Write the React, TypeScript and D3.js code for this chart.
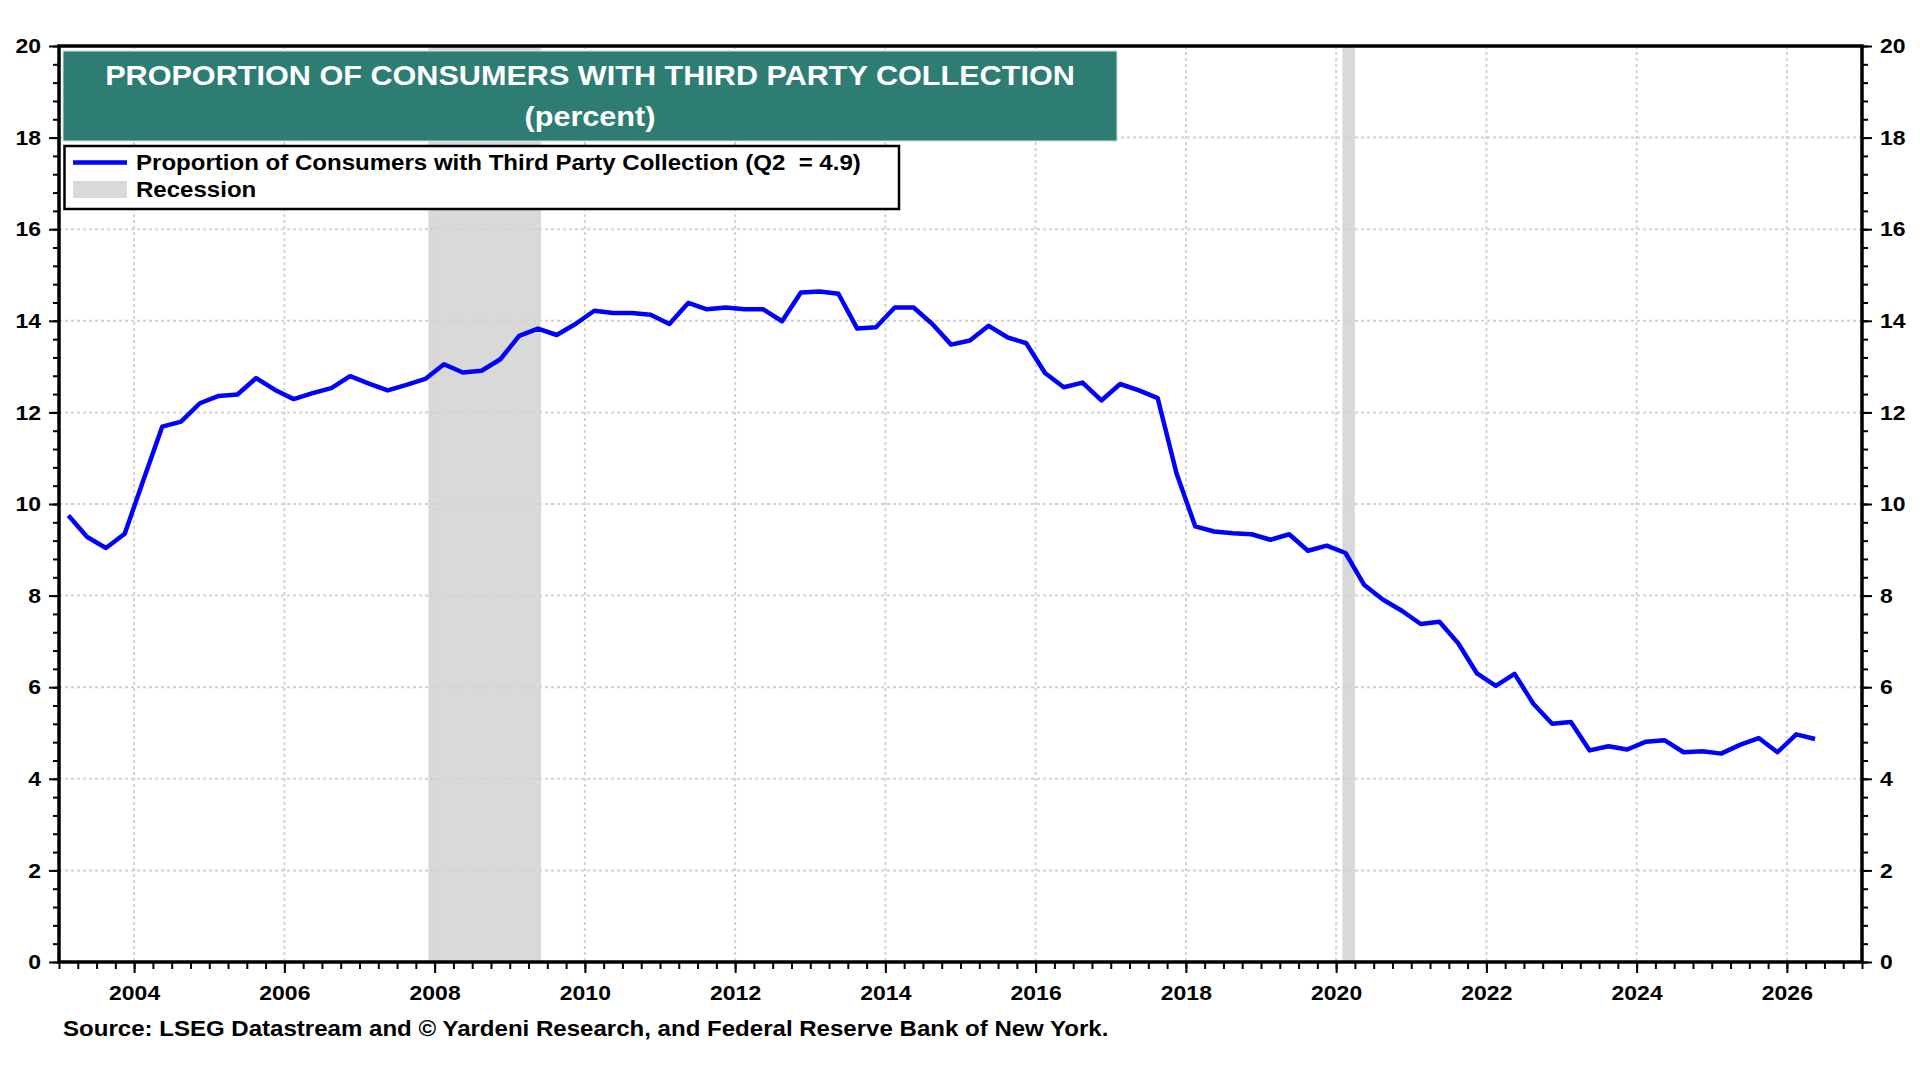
import React from "react";
import * as d3 from "d3";

// quarterly periods, plotted at the middle of each quarter
const quarters: string[] = [
    "2003Q1", "2003Q2", "2003Q3", "2003Q4",
    "2004Q1", "2004Q2", "2004Q3", "2004Q4",
    "2005Q1", "2005Q2", "2005Q3", "2005Q4",
    "2006Q1", "2006Q2", "2006Q3", "2006Q4",
    "2007Q1", "2007Q2", "2007Q3", "2007Q4",
    "2008Q1", "2008Q2", "2008Q3", "2008Q4",
    "2009Q1", "2009Q2", "2009Q3", "2009Q4",
    "2010Q1", "2010Q2", "2010Q3", "2010Q4",
    "2011Q1", "2011Q2", "2011Q3", "2011Q4",
    "2012Q1", "2012Q2", "2012Q3", "2012Q4",
    "2013Q1", "2013Q2", "2013Q3", "2013Q4",
    "2014Q1", "2014Q2", "2014Q3", "2014Q4",
    "2015Q1", "2015Q2", "2015Q3", "2015Q4",
    "2016Q1", "2016Q2", "2016Q3", "2016Q4",
    "2017Q1", "2017Q2", "2017Q3", "2017Q4",
    "2018Q1", "2018Q2", "2018Q3", "2018Q4",
    "2019Q1", "2019Q2", "2019Q3", "2019Q4",
    "2020Q1", "2020Q2", "2020Q3", "2020Q4",
    "2021Q1", "2021Q2", "2021Q3", "2021Q4",
    "2022Q1", "2022Q2", "2022Q3", "2022Q4",
    "2023Q1", "2023Q2", "2023Q3", "2023Q4",
    "2024Q1", "2024Q2", "2024Q3", "2024Q4",
    "2025Q1", "2025Q2", "2025Q3", "2025Q4",
    "2026Q1", "2026Q2",
];

const collectionShare: number[] = [
    9.75, 9.28, 9.04, 9.35,
    10.53, 11.69, 11.80, 12.20,
    12.36, 12.39, 12.75, 12.49,
    12.29, 12.42, 12.53, 12.79,
    12.63, 12.48, 12.60, 12.73,
    13.05, 12.87, 12.91, 13.16,
    13.67, 13.83, 13.69, 13.93,
    14.22, 14.17, 14.17, 14.13,
    13.93, 14.39, 14.25, 14.29,
    14.25, 14.25, 13.99, 14.62,
    14.64, 14.59, 13.83, 13.86,
    14.29, 14.29, 13.93, 13.48,
    13.57, 13.89, 13.64, 13.51,
    12.86, 12.55, 12.65, 12.26,
    12.62, 12.48, 12.31, 10.67,
    9.51, 9.40, 9.36, 9.34,
    9.22, 9.34, 8.98, 9.09,
    8.93, 8.23, 7.91, 7.67,
    7.38, 7.43, 6.96, 6.30,
    6.03, 6.29, 5.64, 5.20,
    5.24, 4.62, 4.71, 4.64,
    4.81, 4.84, 4.58, 4.60,
    4.55, 4.74, 4.89, 4.58,
    4.97, 4.87,
];

// recession periods in decimal years
const recessionStart: number[] = [2007.917, 2020.083];
const recessionEnd: number[] = [2009.417, 2020.25];

const yearTicks: number[] = [2004, 2006, 2008, 2010, 2012, 2014, 2016, 2018, 2020, 2022, 2024, 2026];
const valueTicks: number[] = [0, 2, 4, 6, 8, 10, 12, 14, 16, 18, 20];

const titleLines: string[] = ["PROPORTION OF CONSUMERS WITH THIRD PARTY COLLECTION", "(percent)"];
const legendLabels: string[] = ["Proportion of Consumers with Third Party Collection (Q2  = 4.9)", "Recession"];
const sourceNote = "Source: LSEG Datastream and \u00A9 Yardeni Research, and Federal Reserve Bank of New York.";

const W = 1920;
const H = 1080;
const margin = { top: 46, right: 58, bottom: 118, left: 59 };
const FONT = "'Liberation Sans', Arial, sans-serif";
const STRETCH = 1.093; // the original lettering is a bit wider than Arial

const quarterToYear = (q: string): number => {
    const yr = +q.slice(0, 4);
    const n = +q.slice(5);
    return yr + (n - 0.5) / 4;
};

class CollectionChart extends React.Component {

    private svgRef = React.createRef<SVGSVGElement>();

    public componentDidMount() {
        this.drawChart();
    }

    public render() {
        return <svg ref={this.svgRef} width={W} height={H}
            style={{ position: "absolute", left: 0, top: 0, background: "#fff" }}></svg>;
    }

    private drawChart = (): void => {
        const svg = d3.select(this.svgRef.current);
        svg.selectAll("*").remove();

        const x = d3.scaleLinear().domain([2003, 2027]).range([margin.left, W - margin.right]);
        const y = d3.scaleLinear().domain([0, 20]).range([H - margin.bottom, margin.top]);

        // recession shading
        svg.append("g").selectAll("rect")
            .data(recessionStart)
            .enter()
            .append("rect")
            .attr("x", d => x(d))
            .attr("y", y(20))
            .attr("width", (d, i) => x(recessionEnd[i]) - x(d))
            .attr("height", y(0) - y(20))
            .attr("fill", "#d9d9d9");

        // grid
        const grid = svg.append("g")
            .attr("stroke", "#d2d2d2")
            .attr("stroke-width", 2)
            .attr("stroke-dasharray", "3,3");
        grid.selectAll("line.h")
            .data(valueTicks.filter(v => v > 0 && v < 20))
            .enter()
            .append("line")
            .attr("class", "h")
            .attr("x1", x(2003))
            .attr("x2", x(2027))
            .attr("y1", d => y(d))
            .attr("y2", d => y(d));
        grid.selectAll("line.v")
            .data(yearTicks)
            .enter()
            .append("line")
            .attr("class", "v")
            .attr("x1", d => x(d))
            .attr("x2", d => x(d))
            .attr("y1", y(20))
            .attr("y2", y(0));

        // data line
        const line = d3.line<number>()
            .x((d, i) => x(quarterToYear(quarters[i])))
            .y(d => y(d));
        svg.append("path")
            .datum(collectionShare)
            .attr("d", line)
            .attr("fill", "none")
            .attr("stroke", "#0000ff")
            .attr("stroke-width", 4.5)
            .attr("stroke-linejoin", "round");

        // axes
        const minorY = d3.range(0, 51).map(i => i * 0.4);
        const minorX = d3.range(0, 97).map(i => 2003 + i * 0.25);
        const styleAxis = (g: d3.Selection<SVGGElement, unknown, null, undefined>) => {
            g.select(".domain").remove();
            g.selectAll(".tick line").attr("stroke", "#000").attr("stroke-width", 2);
            g.selectAll(".tick text")
                .attr("fill", "#000")
                .attr("font-family", FONT)
                .attr("font-weight", "bold")
                .attr("font-size", "21px");
        };

        svg.append("g").attr("transform", `translate(${x(2003)},0)`)
            .call(d3.axisLeft(y).tickValues(minorY).tickSize(6).tickFormat(() => ""))
            .call(styleAxis);
        svg.append("g").attr("transform", `translate(${x(2003)},0)`)
            .call(d3.axisLeft(y).tickValues(valueTicks).tickSize(10).tickPadding(8).tickFormat(d3.format("d")))
            .call(styleAxis);
        svg.append("g").attr("transform", `translate(${x(2027)},0)`)
            .call(d3.axisRight(y).tickValues(minorY).tickSize(6).tickFormat(() => ""))
            .call(styleAxis);
        svg.append("g").attr("transform", `translate(${x(2027)},0)`)
            .call(d3.axisRight(y).tickValues(valueTicks).tickSize(10).tickPadding(8).tickFormat(d3.format("d")))
            .call(styleAxis);
        svg.append("g").attr("transform", `translate(0,${y(0)})`)
            .call(d3.axisBottom(x).tickValues(minorX).tickSize(7).tickFormat(() => ""))
            .call(styleAxis);
        svg.append("g").attr("transform", `translate(0,${y(0)})`)
            .call(d3.axisBottom(x).tickValues(yearTicks).tickSize(11).tickPadding(12).tickFormat(d3.format("d")))
            .call(styleAxis);

        // frame
        svg.append("rect")
            .attr("x", x(2003))
            .attr("y", y(20))
            .attr("width", x(2027) - x(2003))
            .attr("height", y(0) - y(20))
            .attr("fill", "none")
            .attr("stroke", "#000")
            .attr("stroke-width", 3.5);

        // title box
        svg.append("rect")
            .attr("x", 63)
            .attr("y", 51)
            .attr("width", 1054)
            .attr("height", 90)
            .attr("fill", "#2e7d72")
            .attr("stroke", "#cfe2dd")
            .attr("stroke-width", 1);
        svg.selectAll("text.title")
            .data(titleLines)
            .enter()
            .append("text")
            .attr("class", "title")
            .text(d => d)
            .attr("x", 590)
            .attr("y", (d, i) => 85 + i * 41)
            .attr("text-anchor", "middle")
            .attr("font-family", FONT)
            .attr("font-weight", "bold")
            .attr("font-size", "28px")
            .attr("fill", "#fff");

        // legend
        svg.append("rect")
            .attr("x", 64.5)
            .attr("y", 146)
            .attr("width", 834.5)
            .attr("height", 63)
            .attr("fill", "#fff")
            .attr("stroke", "#000")
            .attr("stroke-width", 2.5);
        svg.append("line")
            .attr("x1", 73)
            .attr("x2", 127)
            .attr("y1", 162.5)
            .attr("y2", 162.5)
            .attr("stroke", "#0000ff")
            .attr("stroke-width", 4.5);
        svg.append("rect")
            .attr("x", 73)
            .attr("y", 181)
            .attr("width", 54)
            .attr("height", 17)
            .attr("fill", "#d9d9d9");
        svg.selectAll("text.legend")
            .data(legendLabels)
            .enter()
            .append("text")
            .attr("class", "legend")
            .text(d => d)
            .attr("x", 136)
            .attr("y", (d, i) => 169.5 + i * 27)
            .attr("font-family", FONT)
            .attr("font-weight", "bold")
            .attr("font-size", "22px")
            .attr("fill", "#000")
            .style("white-space", "pre");

        // source
        svg.append("text")
            .text(sourceNote)
            .attr("x", 63)
            .attr("y", 1036)
            .attr("font-family", FONT)
            .attr("font-weight", "bold")
            .attr("font-size", "22px")
            .attr("fill", "#000");

        // widen all lettering a little to match the original
        svg.selectAll<SVGTextElement, unknown>("text").each(function () {
            const len = this.getComputedTextLength();
            if (len > 0) {
                d3.select(this)
                    .attr("textLength", len * STRETCH)
                    .attr("lengthAdjust", "spacingAndGlyphs");
            }
        });
    }
}

export default function App() {
    return <CollectionChart />;
}
